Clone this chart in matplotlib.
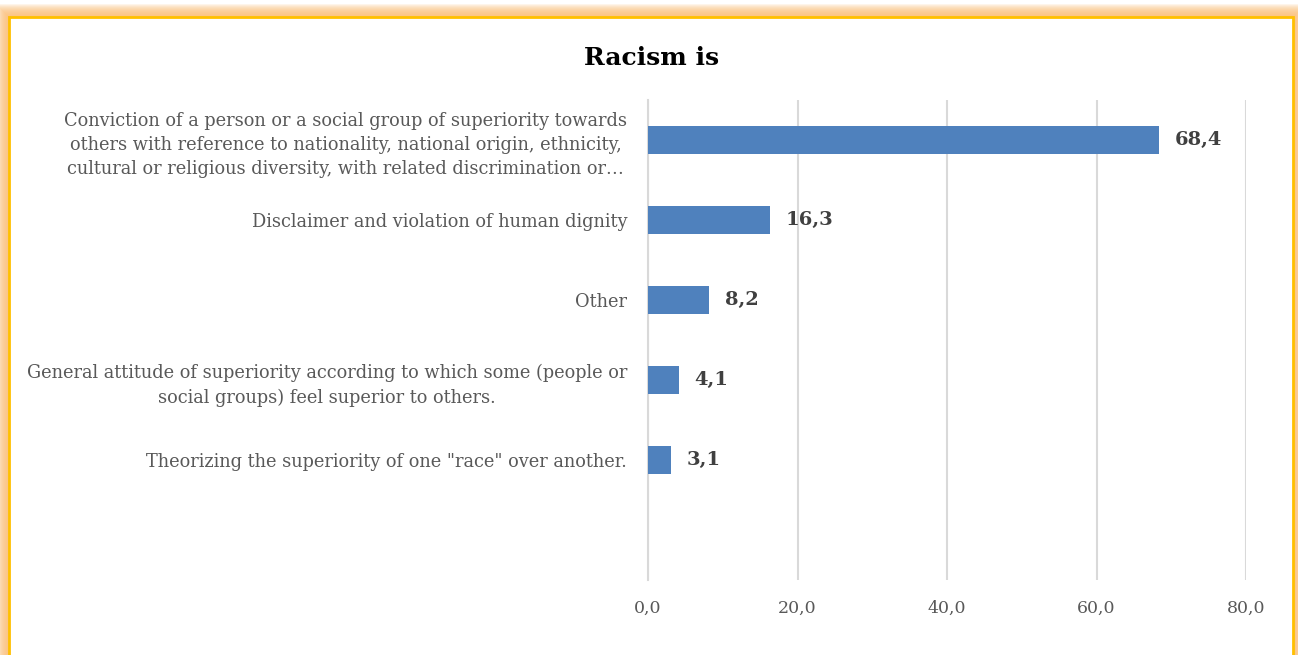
import matplotlib.pyplot as plt
from matplotlib.patches import Rectangle

# data
categories = [
    'Conviction of a person or a social group of superiority towards\n'
    'others with reference to nationality, national origin, ethnicity,\n'
    'cultural or religious diversity, with related discrimination or…',
    'Disclaimer and violation of human dignity',
    'Other',
    'General attitude of superiority according to which some (people or\n'
    'social groups) feel superior to others.',
    'Theorizing the superiority of one "race" over another.',
]
values = [68.4, 16.3, 8.2, 4.1, 3.1]
xticks = [0, 20, 40, 60, 80]

plt.rcParams['font.family'] = ['DejaVu Serif']

fig = plt.figure(figsize=(12.98, 6.55), dpi=100)

# orange glow + yellow frame around the chart
W, H = 1298, 655
x0, y0, x1 = 9, 17, 1293
for i in range(1, 14):
    fig.patches.append(Rectangle(((x0 - i) / W, -0.1), (x1 - x0 + 2 * i) / W, (H - y0 + i) / H + 0.1,
                                 transform=fig.transFigure, facecolor='#fbbf78',
                                 edgecolor='none', alpha=0.15, zorder=0))
fig.patches.append(Rectangle((x0 / W, -0.1), (x1 - x0) / W, (H - y0) / H + 0.1,
                             transform=fig.transFigure, facecolor='white',
                             edgecolor='#ffc000', linewidth=2, zorder=1))

ax = fig.add_axes([648 / W, 1 - 580 / H, (1246 - 648) / W, 480 / H])
ax.set_zorder(5)
ax.patch.set_visible(False)

# 6 slots, the last one stays empty (as in the original Excel chart)
pos = list(range(len(categories)))
ax.barh(pos, values, height=0.35, color='#4f81bd', zorder=3)
for p, v in zip(pos, values):
    ax.text(v + 2.1, p, f'{v:.1f}'.replace('.', ','), va='center', ha='left',
            fontsize=14, fontweight='bold', color='#404040')

ax.set_ylim(5.5, -0.5)
ax.set_xlim(0, 80)
ax.set_yticks(pos)
ax.set_yticklabels(categories, fontsize=12.8, color='#595959', multialignment='center',
                   linespacing=1.45)
ax.set_xticks(xticks)
ax.set_xticklabels([f'{t:.1f}'.replace('.', ',') for t in xticks], fontsize=12.5, color='#595959')
ax.tick_params(axis='y', length=0, pad=15)
ax.tick_params(axis='x', length=0, pad=14)

ax.grid(axis='x', color='#d9d9d9', linewidth=1.5, zorder=0)
for s in ['top', 'right', 'bottom']:
    ax.spines[s].set_visible(False)
ax.spines['left'].set_color('#d9d9d9')
ax.spines['left'].set_linewidth(1.5)

fig.text(652 / W, 1 - 58 / H, 'Racism is', ha='center', va='center',
         fontsize=18, fontweight='bold', color='black', zorder=6)

fig.savefig('out.png', dpi=100)
